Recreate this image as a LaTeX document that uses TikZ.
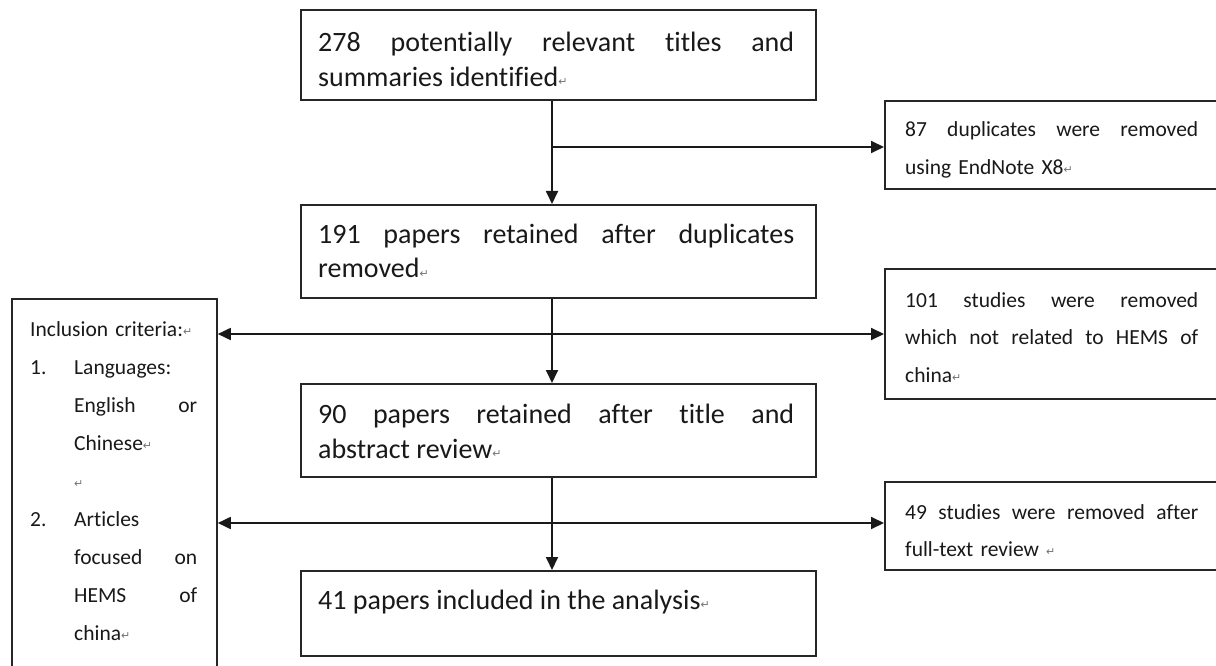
\documentclass[tikz,border=0pt]{standalone}
\usepackage{fontspec}
\setmainfont{Carlito}[RawFeature=-liga]
\newfontfamily\symf{DejaVu Sans}
\usetikzlibrary{arrows.meta}
\newcommand\parmark{{\symf\fontsize{11}{11}\selectfont\color{black!55}\raisebox{1pt}{↵}}}
\tikzset{
  box/.style={draw=black!85, line width=1.8pt, inner sep=0pt, anchor=north west, fill=white},
  bigtxt/.style={anchor=base west, inner sep=0pt, align=justify, text=black!90,
     font=\fontsize{28}{35}\selectfont},
  smalltxt/.style={anchor=base west, inner sep=0pt, align=left, text=black!90,
     font=\fontsize{21.5}{37.5}\selectfont},
  lefttxt/.style={anchor=base west, inner sep=0pt, align=left, text=black!90,
     font=\fontsize{21.5}{38}\selectfont},
  arr/.style={line width=1.8pt, draw=black!90, -{Triangle[length=13pt,width=12pt]}},
  darr/.style={line width=1.8pt, draw=black!90, {Triangle[length=13pt,width=12pt]}-{Triangle[length=13pt,width=12pt]}}
}
\begin{document}
\begin{tikzpicture}[x=1pt,y=-1pt]
\useasboundingbox[fill=white] (0,0) rectangle (1216,666);

% main boxes
\node[box, minimum width=515pt, minimum height=90pt] (b1) at (300,9) {};
\node[box, minimum width=515pt, minimum height=93pt] (b2) at (300,204) {};
\node[box, minimum width=515pt, minimum height=93pt] (b3) at (300,383) {};
\node[box, minimum width=515pt, minimum height=85pt] (b4) at (300,570) {};

% side boxes
\node[box, minimum width=340pt, minimum height=88pt] (r1) at (884,100) {};
\node[box, minimum width=340pt, minimum height=130pt] (r2) at (884,268) {};
\node[box, minimum width=340pt, minimum height=88pt] (r3) at (884,481) {};
\node[box, minimum width=205pt, minimum height=390pt] (lb) at (11,298) {};

% texts
\node[bigtxt, text width=476pt] (t1) at (318,52)
  {278\hfill potentially\hfill relevant\hfill titles\hfill and\\summaries identified\parmark};
\node[bigtxt, text width=476pt] (t2) at (318,243)
  {191\hfill papers\hfill retained\hfill after\hfill duplicates\\removed\parmark};
\node[bigtxt, text width=476pt] (t3) at (318,423)
  {90\hfill papers\hfill retained\hfill after\hfill title\hfill and\\abstract review\parmark};
\node[bigtxt, text width=476pt] (t4) at (318,609)
  {41 papers included in the analysis\parmark};

\node[smalltxt, text width=293pt] (s1) at (905,137)
  {87\hfill duplicates\hfill were\hfill removed\\using EndNote X8\parmark};
\node[smalltxt, text width=293pt] (s2) at (905,307)
  {101\hfill studies\hfill were\hfill removed\\which\hfill not\hfill related\hfill to\hfill HEMS\hfill of\\china\parmark};
\node[smalltxt, text width=293pt] (s3) at (905,519)
  {49\hfill studies\hfill were\hfill removed\hfill after\\full-text review \parmark};

\node[lefttxt, text width=167pt] (l1) at (30,336)
  {Inclusion criteria:\parmark\\
   \makebox[44pt][l]{1.}Languages:\\
   \hspace*{44pt}English\hfill or\\
   \hspace*{44pt}Chinese\parmark\\
   \hspace*{44pt}\parmark\\
   \makebox[44pt][l]{2.}Articles\\
   \hspace*{44pt}focused\hfill on\\
   \hspace*{44pt}HEMS\hfill of\\
   \hspace*{44pt}china\parmark};

% connectors
\coordinate (j1) at (552,147);
\coordinate (j2) at (552,334);
\coordinate (j3) at (552,523);
\draw[arr] (b1.south -| j1) -- (b2.north -| j1);
\draw[arr] (j1) -- (j1 -| r1.west);
\draw[arr] (b2.south -| j2) -- (b3.north -| j2);
\draw[darr] (j2 -| lb.east) -- (j2 -| r2.west);
\draw[arr] (b3.south -| j3) -- (b4.north -| j3);
\draw[darr] (j3 -| lb.east) -- (j3 -| r3.west);
\end{tikzpicture}
\end{document}
